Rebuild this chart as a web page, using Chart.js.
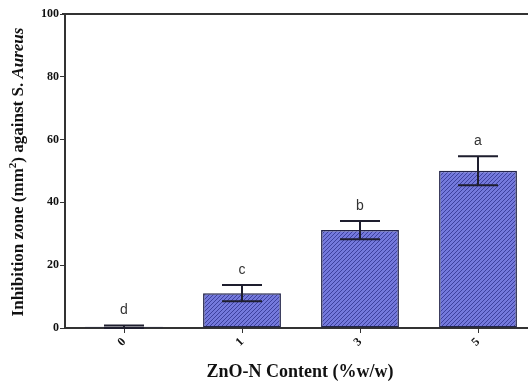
<!DOCTYPE html>
<html>
<head>
<meta charset="utf-8">
<script src="https://cdn.jsdelivr.net/npm/chart.js@4/dist/chart.umd.min.js"></script>
<style>
  html, body { margin: 0; padding: 0; background: #fff; overflow: hidden; }
  #wrap { width: 540px; height: 385px; }
</style>
</head>
<body>
<div id="wrap"><canvas id="chart" width="540" height="385"></canvas></div>
<script>
// ── Data ─────────────────────────────────────────────────────
const CATEGORIES = ['0', '1', '3', '5'];
const MEANS = [0.4, 11.1, 31.2, 50.1];
const ERRORS = [0.4, 2.6, 2.9, 4.6];
const LETTERS = ['d', 'c', 'b', 'a'];
const Y_TICKS = [0, 20, 40, 60, 80, 100];

const SERIF = '"Liberation Serif", "Times New Roman", serif';

// ── Hatch pattern ────────────────────────────────────────────
function hatch() {
  const c = document.createElement('canvas');
  c.width = 4; c.height = 4;
  const g = c.getContext('2d');
  g.fillStyle = '#7479dc';
  g.fillRect(0, 0, 4, 4);
  g.strokeStyle = '#3d419e';
  g.lineWidth = 1;
  g.beginPath();
  g.moveTo(-1, 5); g.lineTo(5, -1);
  g.moveTo(-1, 1); g.lineTo(1, -1);
  g.moveTo(3, 5); g.lineTo(5, 3);
  g.stroke();
  return g.createPattern(c, 'repeat');
}

// ── Error bars, letters, frame, titles ───────────────────────
const extras = {
  id: 'extras',
  afterDatasetsDraw(chart) {
    const { ctx, scales: { x, y }, chartArea: a } = chart;
    ctx.save();
    // top frame line
    ctx.strokeStyle = '#333';
    ctx.lineWidth = 2;
    ctx.beginPath();
    ctx.moveTo(a.left - 3, a.top);
    ctx.lineTo(a.right, a.top);
    ctx.stroke();

    // error bars
    ctx.strokeStyle = '#1e1e2e';
    ctx.lineWidth = 2;
    MEANS.forEach((m, i) => {
      const cx = x.getPixelForValue(i);
      const yt = y.getPixelForValue(m + ERRORS[i]);
      const yb = y.getPixelForValue(Math.max(m - ERRORS[i], 0));
      ctx.beginPath();
      ctx.moveTo(cx, yt); ctx.lineTo(cx, yb);
      ctx.moveTo(cx - 20, yt); ctx.lineTo(cx + 20, yt);
      ctx.moveTo(cx - 20, yb); ctx.lineTo(cx + 20, yb);
      ctx.stroke();
      // letter
      ctx.fillStyle = '#333';
      ctx.font = '14px "Liberation Sans", Arial, sans-serif';
      ctx.textAlign = 'center';
      ctx.textBaseline = 'bottom';
      ctx.fillText(LETTERS[i], cx, yt - 8);
    });

    // x title
    ctx.fillStyle = '#111';
    ctx.font = 'bold 18px ' + SERIF;
    ctx.textAlign = 'center';
    ctx.textBaseline = 'middle';
    ctx.fillText('ZnO-N Content (%w/w)', 300, 372);

    // y title (mixed style)
    ctx.translate(19, 172);
    ctx.rotate(-Math.PI / 2);
    const parts = [
      { t: 'Inhibition zone (mm', f: 'bold 17px ' + SERIF, dy: 0 },
      { t: '2', f: 'bold 11px ' + SERIF, dy: -6 },
      { t: ') against S. ', f: 'bold 17px ' + SERIF, dy: 0 },
      { t: 'Aureus', f: 'bold italic 17px ' + SERIF, dy: 0 },
    ];
    let total = 0;
    parts.forEach(p => { ctx.font = p.f; p.w = ctx.measureText(p.t).width; total += p.w; });
    let px = -total / 2;
    ctx.textAlign = 'left';
    parts.forEach(p => { ctx.font = p.f; ctx.fillText(p.t, px, p.dy); px += p.w; });
    ctx.restore();
  },
};

// ── Bar chart ────────────────────────────────────────────────
new Chart(document.getElementById('chart'), {
  type: 'bar',
  data: {
    labels: CATEGORIES,
    datasets: [{
      data: MEANS,
      backgroundColor: hatch(),
      borderColor: '#23254a',
      borderWidth: 1.5,
      borderSkipped: false,
      barPercentage: 0.66,
      categoryPercentage: 1,
    }],
  },
  options: {
    responsive: false,
    animation: false,
    layout: { padding: { top: 14, right: 3, left: 0, bottom: 0 } },
    plugins: { legend: { display: false }, tooltip: { enabled: false } },
    scales: {
      x: {
        grid: { display: true, drawOnChartArea: false, drawTicks: true, tickLength: 5, color: '#333', offset: false },
        border: { color: '#333', width: 2 },
        ticks: {
          color: '#111', font: { family: SERIF, size: 12, weight: 'bold' },
          minRotation: 45, maxRotation: 45, padding: 2,
        },
        afterFit: s => { s.height = 57; },
      },
      y: {
        min: 0, max: 100,
        afterBuildTicks: s => { s.ticks = Y_TICKS.map(v => ({ value: v })); },
        grid: { drawOnChartArea: false, drawTicks: true, tickLength: 5, color: '#333' },
        border: { color: '#333', width: 2 },
        ticks: { color: '#111', font: { family: SERIF, size: 12, weight: 'bold' }, padding: 1 },
        afterFit: s => { s.width = 65; },
      },
    },
  },
  plugins: [extras],
});
</script>
</body>
</html>
